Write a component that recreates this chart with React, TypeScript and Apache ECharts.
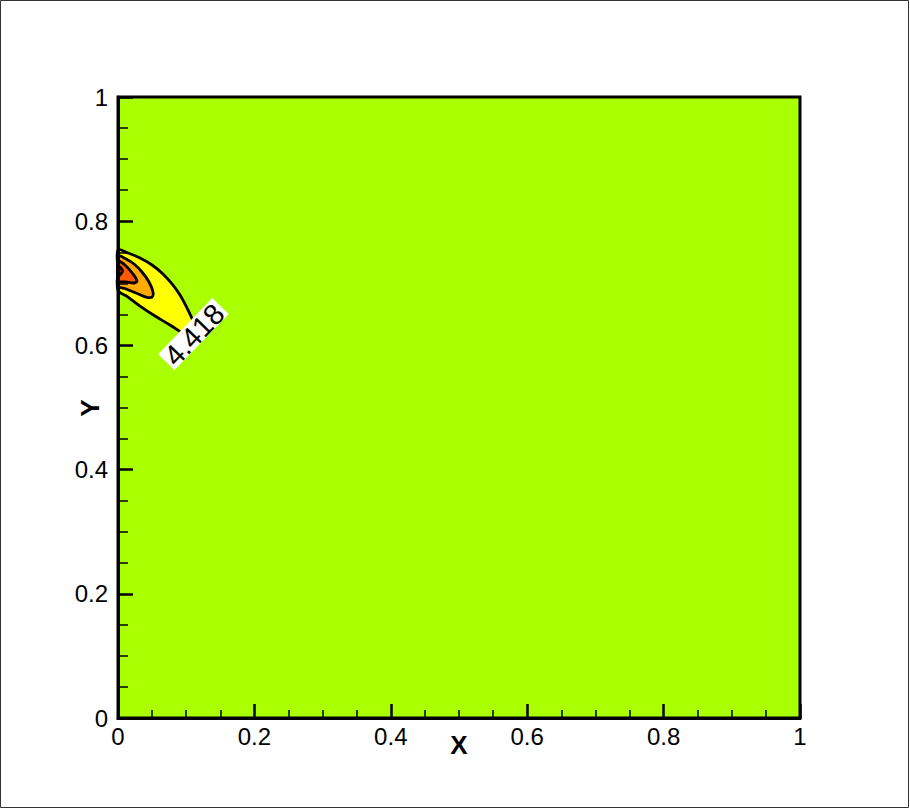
import React, { useEffect, useRef } from "react";
import * as echarts from "echarts";

// Axis ticks
const xTicks = [0, 0.2, 0.4, 0.6, 0.8, 1];
const yTicks = [0, 0.2, 0.4, 0.6, 0.8, 1];

// Contour polygons (data coordinates), outer to inner
const contourYellow: number[][] = [
  [0, 0.7536], [0.0147, 0.7488], [0.0323, 0.7407], [0.0499, 0.7295], [0.066, 0.715],
  [0.0792, 0.6989], [0.0909, 0.6812], [0.1012, 0.6602], [0.11, 0.6393], [0.1144, 0.6216],
  [0.1085, 0.6135], [0.0968, 0.6184], [0.0762, 0.6329], [0.0543, 0.6473], [0.0323, 0.6634],
  [0.0147, 0.6779], [0, 0.6892], [0, 0.7214],
];
const contourOrange: number[][] = [
  [0, 0.744], [0.0117, 0.7391], [0.0235, 0.7311], [0.0352, 0.7182], [0.0455, 0.7021],
  [0.0513, 0.686], [0.0499, 0.6779], [0.0411, 0.6779], [0.0264, 0.6844], [0.0117, 0.6908],
  [0, 0.6957], [0, 0.72],
];
const contourRedOrange: number[][] = [
  [0, 0.7359], [0.0117, 0.7279], [0.022, 0.715], [0.0279, 0.7037], [0.0235, 0.7005],
  [0.0117, 0.7021], [0, 0.7037], [0, 0.72],
];
const contourRed: number[][] = [
  [0, 0.7279], [0.0066, 0.7198], [0, 0.7118],
];
const contourLevels = [contourYellow, contourOrange, contourRedOrange, contourRed];
const levelColors = ["#ffff00", "#ffaa00", "#ff5a00", "#e80000"];

// Contour label
const labelText = "4.418";
const labelPos = [0.1106, 0.6183];

const FONT = "Liberation Sans, Arial, Helvetica, sans-serif";

export default function App() {
  const ref = useRef<HTMLDivElement>(null);
  useEffect(() => {
    document.body.style.margin = "0";
    const chart = echarts.init(ref.current!, null, { renderer: "svg" });
    const polySeries = contourLevels.map((pts, i) => ({
      type: "custom",
      coordinateSystem: "cartesian2d",
      data: pts,
      z: 3 + i,
      silent: true,
      renderItem: (params: any, api: any) => {
        if (params.dataIndex !== 0) return null;
        const points = pts.map((p) => api.coord(p));
        return {
          type: "polygon",
          shape: { points, smooth: 0.35 },
          style: { fill: levelColors[i], stroke: "#000", lineWidth: 2.8 },
        };
      },
    }));
    const labelSeries = {
      type: "custom",
      coordinateSystem: "cartesian2d",
      data: [labelPos],
      z: 10,
      silent: true,
      renderItem: (params: any, api: any) => {
        const c = api.coord([api.value(0), api.value(1)]);
        return {
          type: "group",
          x: c[0],
          y: c[1],
          rotation: 0.804,
          children: [
            { type: "rect", shape: { x: -39, y: -11.5, width: 78, height: 23 }, style: { fill: "#fff" } },
            {
              type: "text",
              style: {
                text: labelText,
                x: 0,
                y: 1,
                align: "center",
                verticalAlign: "middle",
                fontSize: 29,
                fontFamily: FONT,
                fill: "#000",
              },
            },
          ],
        };
      },
    };
    const axisLabel = (margin: number) => ({
      margin,
      color: "#000",
      fontSize: 24,
      fontFamily: FONT,
      formatter: (v: number) => String(Math.round(v * 10) / 10),
    });
    chart.setOption({
      animation: false,
      grid: {
        left: 118,
        top: 97,
        width: 682,
        height: 621,
        show: true,
        backgroundColor: "#aaff00",
        borderColor: "#000",
        borderWidth: 3,
      },
      xAxis: {
        type: "value",
        min: xTicks[0],
        max: xTicks[xTicks.length - 1],
        interval: 0.2,
        z: 20,
        axisLine: { show: true, lineStyle: { color: "#000", width: 3 } },
        axisTick: { show: true, inside: true, length: 14, lineStyle: { color: "#000", width: 2.5 } },
        minorTick: { show: true, splitNumber: 4, length: 8, lineStyle: { color: "#000", width: 1.5 } },
        splitLine: { show: false },
        axisLabel: axisLabel(6),
      },
      yAxis: {
        type: "value",
        min: yTicks[0],
        max: yTicks[yTicks.length - 1],
        interval: 0.2,
        z: 20,
        axisLine: { show: true, lineStyle: { color: "#000", width: 3 } },
        axisTick: { show: true, inside: true, length: 15, lineStyle: { color: "#000", width: 2.5 } },
        minorTick: { show: true, splitNumber: 4, length: 10, lineStyle: { color: "#000", width: 1.5 } },
        splitLine: { show: false },
        axisLabel: axisLabel(10),
      },
      graphic: [
        {
          type: "rect",
          silent: true,
          shape: { x: 0.5, y: 0.5, width: 908, height: 807 },
          style: { fill: "none", stroke: "#333", lineWidth: 1 },
        },
        {
          type: "text",
          x: 459,
          y: 745,
          style: {
            text: "X",
            align: "center",
            verticalAlign: "middle",
            fontSize: 26,
            fontWeight: "bold",
            fontFamily: FONT,
            fill: "#000",
          },
        },
        {
          type: "text",
          x: 90,
          y: 408,
          rotation: Math.PI / 2,
          style: {
            text: "Y",
            align: "center",
            verticalAlign: "middle",
            fontSize: 26,
            fontWeight: "bold",
            fontFamily: FONT,
            fill: "#000",
          },
        },
      ],
      series: [...polySeries, labelSeries],
    });
    return () => chart.dispose();
  }, []);
  return (
    <div style={{ position: "absolute", left: 0, top: 0, width: 910, height: 809 }}>
      <div ref={ref} style={{ width: 910, height: 809 }} />
    </div>
  );
}
